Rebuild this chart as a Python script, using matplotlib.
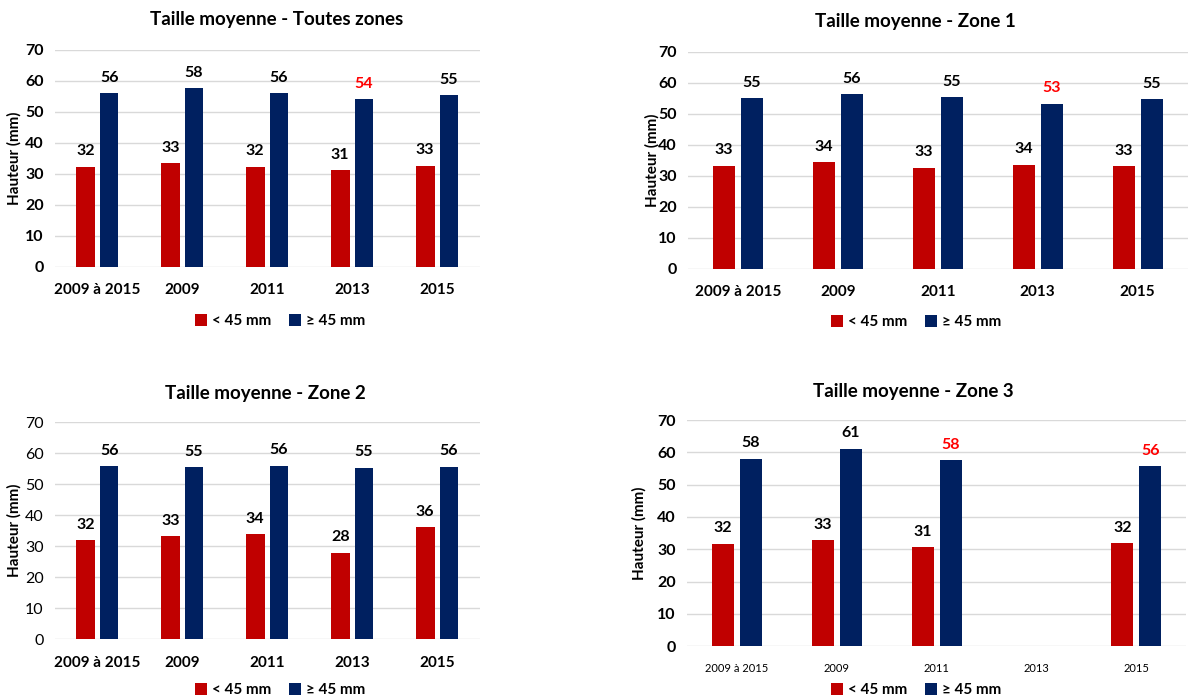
import matplotlib
matplotlib.use('Agg')
import matplotlib.pyplot as plt
import numpy as np

plt.rcParams['font.family'] = ['Lato', 'DejaVu Sans']

categories = ['2009 à 2015', '2009', '2011', '2013', '2015']
series_names = ['< 45 mm', '≥ 45 mm']

titles = ['Taille moyenne - Toutes zones', 'Taille moyenne - Zone 1',
          'Taille moyenne - Zone 2', 'Taille moyenne - Zone 3']

# mean heights (mm)
small_all = [32.3, 33.3, 32.3, 31.1, 32.6]
large_all = [55.9, 57.6, 55.9, 54.0, 55.3]
small_z1 = [33.3, 34.3, 32.6, 33.6, 33.1]
large_z1 = [55.0, 56.4, 55.3, 53.3, 54.8]
small_z2 = [32.0, 33.1, 33.8, 27.9, 36.2]
large_z2 = [55.7, 55.4, 56.0, 55.3, 55.6]
small_z3 = [31.7, 32.8, 30.7, np.nan, 31.8]
large_z3 = [58.0, 61.1, 57.5, np.nan, 55.7]

# indices of the >=45 labels printed in red
red_labels = [[3], [3], [], [2, 4]]

red = '#c00000'
navy = '#002060'

fig = plt.figure(figsize=(11.9, 7), dpi=100)

panels = [
    # axes rect, title (x, y), ylabel x, legend (x, y), bold yticks, bold xticks
    ([0.046, 0.619, 0.357, 0.310], (277, 20), 22, (280, 321), True, True),
    ([0.578, 0.616, 0.420, 0.310], (915, 22), 660, (916, 322), True, True),
    ([0.046, 0.087, 0.357, 0.310], (265, 394), 22, (280, 690), False, True),
    ([0.577, 0.077, 0.420, 0.323], (913, 391), 647, (916, 690), True, False),
]
data = [(small_all, large_all), (small_z1, large_z1),
        (small_z2, large_z2), (small_z3, large_z3)]

x = np.arange(len(categories))
w = 0.22
off = 0.14

for i, (rect, tpos, ylx, lpos, ybold, xbold) in enumerate(panels):
    ax = fig.add_axes(rect)
    small, large = data[i]
    b1 = ax.bar(x - off, small, w, color=red, label=series_names[0], zorder=3)
    b2 = ax.bar(x + off, large, w, color=navy, label=series_names[1], zorder=3)
    for j, v in enumerate(small):
        if not np.isnan(v):
            ax.annotate('%.0f' % v, (x[j] - off, v), xytext=(0, 6),
                        textcoords='offset points', ha='center', va='bottom',
                        fontsize=11.5, fontweight='bold', color='black')
    for j, v in enumerate(large):
        if not np.isnan(v):
            c = '#ff0000' if j in red_labels[i] else 'black'
            ax.annotate('%.0f' % v, (x[j] + off, v), xytext=(0, 6),
                        textcoords='offset points', ha='center', va='bottom',
                        fontsize=11.5, fontweight='bold', color=c)
    ax.set_xlim(-0.5, 4.5)
    ax.set_ylim(0, 70)
    ax.set_yticks(range(0, 71, 10))
    ax.set_yticklabels([str(t) for t in range(0, 71, 10)],
                       fontsize=11.5, fontweight='bold' if ybold else 'normal')
    ax.set_xticks(x)
    if xbold:
        ax.set_xticklabels(categories, fontsize=11, fontweight='bold')
    else:
        ax.set_xticklabels(categories, fontsize=8)
    ax.tick_params(length=0, pad=8)
    ax.tick_params(axis='x', pad=12)
    ax.grid(axis='y', color='#d9d9d9', linewidth=1, zorder=0)
    for s in ax.spines.values():
        s.set_visible(False)
    fig.text(tpos[0] / 1190, 1 - tpos[1] / 700, titles[i], ha='center',
             va='center', fontsize=13.5, fontweight='bold')
    ax.set_ylabel('Hauteur (mm)', fontsize=11, fontweight='bold')
    ax.yaxis.set_label_coords((ylx - rect[0] * 1190) / (rect[2] * 1190), 0.5)
    fig.legend(handles=[b1, b2], loc='center',
               bbox_to_anchor=(lpos[0] / 1190, 1 - lpos[1] / 700),
               ncol=2, frameon=False, handlelength=0.8, handleheight=0.8,
               handletextpad=0.3, columnspacing=1.2,
               prop={'size': 11, 'weight': 'bold'})

fig.savefig('out.png', dpi=100)
